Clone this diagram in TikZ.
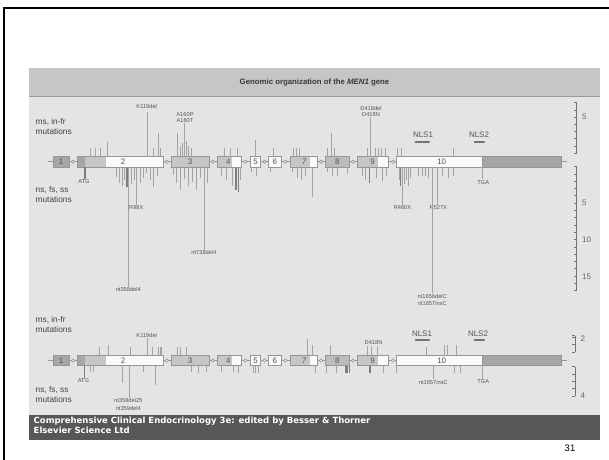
\documentclass[tikz,border=0pt]{standalone}
\usepackage{fontspec}
\setmainfont{Liberation Sans}
\newfontfamily\footfont{DejaVu Sans}
\definecolor{panel}{HTML}{E4E4E4}
\definecolor{titlebar}{HTML}{C6C6C6}
\definecolor{titleline}{HTML}{9A9A9A}
\definecolor{footer}{HTML}{575757}
\definecolor{exdark}{HTML}{A6A6A6}
\definecolor{exmid}{HTML}{C6C6C6}
\definecolor{exlight}{HTML}{FAFAFA}
\definecolor{exline}{HTML}{969696}
\definecolor{mutgray}{HTML}{A3A3A3}
\definecolor{mutdark}{HTML}{7E7E7E}
\definecolor{labgray}{HTML}{555555}
\tikzset{
  exon/.style={draw=exline, line width=0.8pt},
  mut/.style={draw=mutgray, line width=1pt},
  mutd/.style={draw=mutdark, line width=1.1pt},
  tinylab/.style={font=\fontsize{5.7}{6}\selectfont, text=labgray, inner sep=0.6pt},
  widelab/.style={font=\fontsize{5.7}{7.4}\selectfont, text=labgray, inner sep=0.6pt, align=center},
  sidelab/.style={font=\fontsize{8.3}{10}\selectfont, text=black!75, align=left, anchor=west, inner sep=0pt},
  exnum/.style={font=\fontsize{8}{9}\selectfont, text=labgray, inner sep=0pt},
  scalelab/.style={font=\fontsize{8}{9}\selectfont, text=black!60, anchor=west, inner sep=0pt},
  nlslab/.style={font=\fontsize{8}{9}\selectfont, text=labgray, inner sep=0pt},
  nlsbar/.style={draw=black!55, line width=2pt, line cap=round},
  scaleline/.style={draw=black!55, line width=0.6pt},
  footlab/.style={font=\footfont\bfseries\fontsize{8.5}{10}\selectfont, text=white, anchor=west, inner sep=0pt}
}
% one exon segment: x-from, x-to, fill
\newcommand\exseg[3]{\fill[#3] (#1,-5.2) rectangle (#2,5.2);}
\newcommand\exframe[2]{\draw[exon] (#1,-5.2) rectangle (#2,5.2);}
% the ten exons of the gene on a backbone centred at height #2
\newcommand\generow[2]{%
  \begin{scope}[yshift=-#2pt]
    \draw[exline, line width=0.8pt] (48,0) -- (566.7,0);
    \foreach \cx in {73,167,212.7,245.5,264.5,285.5,321,353,393}
      \draw[exline, fill=panel, line width=0.6pt] (\cx,0) circle (1.7pt);
    \exseg{53.5}{69}{exdark}\exframe{53.5}{69}
    \exseg{77.7}{85}{exdark}\exseg{85}{106}{exmid}\exseg{106}{163}{exlight}\exframe{77.7}{163}
    \exseg{171.7}{209}{exmid}\exframe{171.7}{209}
    \exseg{217.7}{232}{exmid}\exseg{232}{241.7}{exlight}\exframe{217.7}{241.7}
    \exseg{250.7}{260.7}{exlight}\exframe{250.7}{260.7}
    \exseg{268}{281.7}{exlight}\exframe{268}{281.7}
    \exseg{290}{310}{exmid}\exseg{310}{317}{exlight}\exframe{290}{317}
    \exseg{325.7}{349}{exdark!75}\exframe{325.7}{349}
    \exseg{357.7}{378}{exmid}\exseg{378}{388}{exlight}\exframe{357.7}{388}
    \exseg{396.7}{482.7}{exlight}\exseg{482.7}{561.7}{exdark}\exframe{396.7}{482.7}\exframe{482.7}{561.7}
    \node[exnum] (#1-e1) at (61.2,0) {1};
    \node[exnum] (#1-e2) at (123,0) {2};
    \node[exnum] (#1-e3) at (190,0) {3};
    \node[exnum] (#1-e4) at (228.3,0) {4};
    \node[exnum] (#1-e5) at (255.7,0) {5};
    \node[exnum] (#1-e6) at (274.8,0) {6};
    \node[exnum] (#1-e7) at (304,0) {\itshape 7};
    \node[exnum] (#1-e8) at (337.3,0) {8};
    \node[exnum] (#1-e9) at (372.7,0) {9};
    \node[exnum] (#1-e10) at (441.7,0) {10};
  \end{scope}}
\begin{document}
\begin{tikzpicture}[x=1pt,y=-1pt]
\useasboundingbox (0,0) rectangle (609,459);
\fill[white] (0,0) rectangle (609,459);
% slide frame
\draw[line width=2pt] (3.7,460) -- (3.7,8.3) -- (610,8.3);
% figure panel, title bar, footer
\fill[panel] (29,96) rectangle (600,415);
\fill[titlebar] (29,68.3) rectangle (600,96);
\draw[titleline, line width=1.2pt] (29,96.3) -- (600,96.3);
\node[font=\bfseries\fontsize{7.8}{9}\selectfont, text=black!78] (title) at (314.5,82) {Genomic organization of the \textit{MEN1} gene};
\fill[footer] (29,415) rectangle (600,440);
\node[footlab] (foot1) at (33.5,421) {Comprehensive Clinical Endocrinology 3e: edited by Besser \& Thorner};
\node[footlab] (foot2) at (33.5,430.7) {Elsevier Science Ltd};
\node[font=\fontsize{9.5}{11}\selectfont] (pagenum) at (570,448) {31};

% ---------------- upper gene row ----------------
\node[sidelab] (tms1) at (35.5,121.7) {ms, in-fr};
\node[sidelab] (tms2) at (35.5,131.7) {mutations};
\node[sidelab] (tns1) at (35.5,190) {ns, fs, ss};
\node[sidelab] (tns2) at (35.5,199.5) {mutations};

% missense / in-frame changes above the gene
\foreach \x/\y in {90/148,95/148,100/148,107.3/141.7,153/148,158.3/133.3,160.5/148,
  177.7/133.3,180/146,182/143,186.5/141,188.5/146,191/148,224/148,230/148,237/148,
  255/140,273/148,293/148,296/148,299/148,331/133.3,334.3/148,327/148,
  367.3/148,375/148,378.3/148,381.7/148,385/148,397.7/148,401.7/148,453.3/148}
  \draw[mut] (\x,156.6) -- (\x,\y);
% nonsense / frameshift / splice changes below the gene
\foreach \x/\y in {116/176.7,119/183,122/186,124/180,131/184,134/180,140/183,143/178,
  146/173,150/180,153/186.7,157/176,173.3/175,176/183,180/190,184/179,188/186,
  192/182,196/190,200/178,207/183,221/176,226/180,232/186,240/180,
  251/172,256/176,270/172,292/172,297/178,301/180,305/176,312/197,
  327/172,332/176,337/176,347/174,362/176,365/180,376/178,382/181,386/176,
  399/180,404/184,406/180,408/186,410/178,418/176,422/176,425/176,428/178,
  442/176,448/178,453/176}
  \draw[mut] (\x,167) -- (\x,\y);
\foreach \x/\y in {127/187,236/190,238.3/192,369.3/183,400.7/186}
  \draw[mutd] (\x,167) -- (\x,\y);

\generow{t}{161.8}

% labelled changes of the upper row
\node[tinylab] (tK119) at (146.7,106.7) {K119del};
\draw[mut] (147.7,156.6) -- (147.7,111.5);
\node[tinylab, align=center] (tA160) at (185,117.3) {A160P\\A160T};
\draw[mut] (184.3,156.6) -- (tA160.south -| 184.3,0);
\node[tinylab, align=center] (tD418) at (371,111.2) {D418del\\D418N};
\draw[mut] (370.7,156.6) -- (tD418.south -| 370.7,0);
\node[tinylab] (tATG) at (84,181.5) {ATG};
\draw[mutd] (85,167) -- (tATG.north -| 85,0);
\node[tinylab] (tR98X) at (136.3,208) {R98X};
\draw[mut] (136.3,167) -- (tR98X.north);
\node[tinylab] (t358) at (128.3,289.5) {nt358del4};
\draw[mut] (128.3,167) -- (t358.north);
\node[tinylab] (t738) at (204,252.7) {nt738del4};
\draw[mut] (204,167) -- (t738.north);
\node[tinylab] (tR460X) at (402.5,207.5) {R460X};
\draw[mut] (402.5,167) -- (tR460X.north);
\node[tinylab] (tR527X) at (438.3,207.5) {R527X};
\draw[mut] (437.7,167) -- (tR527X.north -| 437.7,0);
\node[widelab] (t1656) at (432.3,299.7) {nt1656delC\\nt1657insC};
\draw[mut] (432.3,167) -- (t1656.north);
\node[tinylab] (tTGA) at (483.3,182.3) {TGA};
\draw[mut] (482.7,167) -- (tTGA.north -| 482.7,0);
\node[nlslab] (tnls1) at (423,135) {NLS1};
\draw[nlsbar] (415.5,142) -- (429,142);
\node[nlslab] (tnls2) at (479,135) {NLS2};
\draw[nlsbar] (474.5,142) -- (484,142);

% scales of the upper row
\draw[scaleline] (576.7,153) -- (576.7,102.6);
\foreach \k in {0,...,7} \draw[scaleline] (576.7,153-7.2*\k) -- ++(-2.6,0);
\node[scalelab] (tsc5) at (582,116.7) {5};
\draw[scaleline] (576.7,166.5) -- (576.7,290.6);
\foreach \k in {0,...,17} \draw[scaleline] (576.7,166.5+7.3*\k) -- ++(-2.6,0);
\node[scalelab] (tsc5b) at (582,203.2) {5};
\node[scalelab] (tsc10) at (582,240) {10};
\node[scalelab] (tsc15) at (582,276.7) {15};

% ---------------- lower gene row ----------------
\node[sidelab] (bms1) at (35.5,320) {ms, in-fr};
\node[sidelab] (bms2) at (35.5,329.5) {mutations};
\node[sidelab] (bns1) at (35.5,390) {ns, fs, ss};
\node[sidelab] (bns2) at (35.5,399.5) {mutations};

\foreach \x/\y in {99.3/347,108/345,130.7/347,152.7/347,158.3/347,160/347,161.7/347,
  177.7/347,180.7/347,186.7/347,312.7/345,330.7/345,
  426.7/347,444/345,447.3/345,456.7/345}
  \draw[mut] (\x,355.3) -- (\x,\y);
\foreach \x/\y in {307.3/338.5}
  \draw[mut] (\x,355.3) -- (\x,\y);
\foreach \x/\y in {90/372,93/372,122.5/383,143.3/372,155.5/385,191.7/372,198.3/373,
  206.7/372,221.7/372,233.3/372,238.3/373,253.3/373,255.5/373,258.3/373,
  315/373,326.7/373,336.7/373,383.3/373,396.7/373,454.3/373,460.7/373}
  \draw[mut] (\x,365.7) -- (\x,\y);
\foreach \x/\y in {346/373,347.6/373,349.2/373,370/373}
  \draw[mutd] (\x,365.7) -- (\x,\y);

\generow{b}{360.5}

\node[tinylab] (bK119) at (146.7,335) {K119del};
\draw[mut] (147,355.3) -- (bK119.south -| 147,0);
\node[tinylab] (bD418) at (373.5,342.7) {D418N};
\foreach \x in {367.3,371.7,377.7} \draw[mut] (\x,355.3) -- (\x,346);
\node[tinylab] (bATG) at (83.5,381) {ATG};
\draw[mutd] (84.3,365.7) -- (bATG.north -| 84.3,0);
\node[widelab] (b358) at (128.3,404.5) {nt358del25\\nt359del4};
\draw[mut] (129.3,365.7) -- (b358.north -| 129.3,0);
\node[tinylab] (b1657) at (433.3,382) {nt1657insC};
\draw[mut] (433.3,365.7) -- (b1657.north);
\node[tinylab] (bTGA) at (483.3,382) {TGA};
\draw[mut] (482.7,365.7) -- (bTGA.north -| 482.7,0);
\node[nlslab] (bnls1) at (422,334) {NLS1};
\draw[nlsbar] (415.5,340) -- (429,340);
\node[nlslab] (bnls2) at (478,334) {NLS2};
\draw[nlsbar] (474.5,340) -- (484,340);

% scales of the lower row
\draw[scaleline] (575,352) -- (575,335.5);
\foreach \k in {0,1,2} \draw[scaleline] (575,352-7.3*\k) -- ++(-2.6,0);
\draw[scaleline] (575,335.5) -- ++(-2.6,0);
\node[scalelab] (bsc2) at (580.5,338.3) {2};
\draw[scaleline] (575,366.7) -- (575,396);
\foreach \k in {0,...,4} \draw[scaleline] (575,366.7+7.33*\k) -- ++(-2.6,0);
\node[scalelab] (bsc4) at (580.5,396) {4};
\end{tikzpicture}
\end{document}
